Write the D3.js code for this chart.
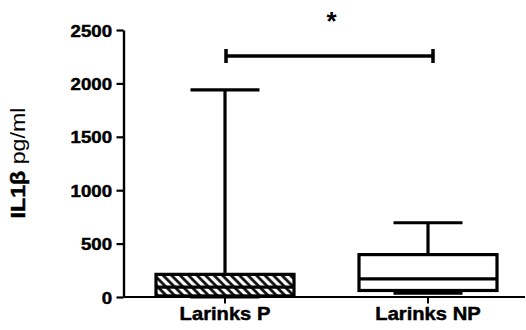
<!DOCTYPE html>
<html>
<head>
<meta charset="utf-8">
<script src="https://cdn.jsdelivr.net/npm/d3@7"></script>
<style>
  html, body { margin: 0; padding: 0; background: #fff; }
  svg { display: block; }
  text { font-family: "Liberation Sans", Arial, sans-serif; fill: #000; }
</style>
</head>
<body>
<div id="chart"></div>
<script>
// ---- data ----
const categories = ["Larinks P", "Larinks NP"];
const mins    = [0, 35];
const q1s     = [10, 61];
const medians = [92, 170];
const q3s     = [212, 397];
const maxs    = [1940, 695];
const hatched = [true, false];
const yTicks  = [0, 500, 1000, 1500, 2000, 2500];
const yLabelBold = "IL1β";
const yLabelUnit = " pg/ml";
const sigText = "*";

// ---- layout ----
const W = 526, H = 330;
const svg = d3.select("#chart").append("svg").attr("width", W).attr("height", H);

const x = d3.scalePoint().domain(categories).range([225, 428]);
const y = d3.scaleLinear().domain([0, 2500]).range([297, 30]);
const axisX0 = 123.5, axisX1 = 525;
const boxW = 138, capW = boxW / 2;

// hatch pattern
const defs = svg.append("defs");
defs.append("pattern")
  .attr("id", "hatch")
  .attr("patternUnits", "userSpaceOnUse")
  .attr("width", 6).attr("height", 6)
  .attr("patternTransform", "rotate(-45)")
  .call(p => {
    p.append("rect").attr("width", 6).attr("height", 6).attr("fill", "#fff");
    p.append("line").attr("x1", 1.5).attr("y1", 0).attr("x2", 1.5).attr("y2", 6)
      .attr("stroke", "#000").attr("stroke-width", 2.6);
  });

// y axis
const yAxis = svg.append("g")
  .attr("transform", `translate(${axisX0},0)`)
  .call(d3.axisLeft(y).tickValues(yTicks).tickSize(7).tickSizeOuter(0).tickFormat(d3.format("d")));
yAxis.select(".domain").attr("stroke", "#000").attr("stroke-width", 2.4);
yAxis.selectAll(".tick line").attr("stroke", "#000").attr("stroke-width", 2.2);
yAxis.selectAll(".tick text")
  .attr("x", null).attr("dy", null)
  .attr("transform", "translate(-11.5,6) scale(1.15,1)")
  .attr("text-anchor", "end")
  .attr("stroke", "#000").attr("stroke-width", 0.45)
  .style("font-size", "16.2px").style("font-weight", "bold")
  .style("font-family", "'Liberation Sans', Arial, sans-serif");

// x axis
svg.append("line")
  .attr("x1", axisX0).attr("x2", axisX1).attr("y1", y(0)).attr("y2", y(0))
  .attr("stroke", "#000").attr("stroke-width", 2);
const xTicks = svg.append("g").selectAll("g").data(categories).join("g")
  .attr("transform", d => `translate(${x(d)},${y(0)})`);
xTicks.append("line").attr("y1", 0).attr("y2", 6.5).attr("stroke", "#000").attr("stroke-width", 2);
xTicks.append("text")
  .attr("transform", "translate(0,23.3) scale(1.12,1)")
  .attr("text-anchor", "middle")
  .attr("stroke", "#000").attr("stroke-width", 0.45)
  .style("font-size", "18px").style("font-weight", "bold")
  .text(d => d);

// y label
const yl = svg.append("text")
  .attr("transform", `translate(25,${(y(0) + y(2500)) / 2 - 0.5}) rotate(-90) scale(1.16,1)`)
  .attr("text-anchor", "middle")
  .style("font-size", "20px");
yl.append("tspan").style("font-weight", "bold")
  .attr("stroke", "#000").attr("stroke-width", 0.45).text(yLabelBold);
yl.append("tspan").text(yLabelUnit);

// boxes
const sw = 3.2;
const g = svg.append("g").selectAll("g").data(categories).join("g")
  .attr("transform", d => `translate(${x(d)},0)`);

// upper whisker
g.append("line").attr("x1", 0).attr("x2", 0)
  .attr("y1", (d, i) => y(q3s[i])).attr("y2", (d, i) => y(maxs[i]))
  .attr("stroke", "#000").attr("stroke-width", sw);
g.append("line").attr("x1", -capW / 2).attr("x2", capW / 2)
  .attr("y1", (d, i) => y(maxs[i])).attr("y2", (d, i) => y(maxs[i]))
  .attr("stroke", "#000").attr("stroke-width", sw);
// lower whisker
g.append("line").attr("x1", 0).attr("x2", 0)
  .attr("y1", (d, i) => y(q1s[i])).attr("y2", (d, i) => y(mins[i]))
  .attr("stroke", "#000").attr("stroke-width", sw);
g.append("line").attr("x1", -capW / 2).attr("x2", capW / 2)
  .attr("y1", (d, i) => y(mins[i])).attr("y2", (d, i) => y(mins[i]))
  .attr("stroke", "#000").attr("stroke-width", sw);
// box
g.append("rect")
  .attr("x", -boxW / 2).attr("width", boxW)
  .attr("y", (d, i) => y(q3s[i]))
  .attr("height", (d, i) => y(q1s[i]) - y(q3s[i]))
  .attr("fill", (d, i) => hatched[i] ? "url(#hatch)" : "#fff")
  .attr("stroke", "#000").attr("stroke-width", sw);
// median
g.append("line").attr("x1", -boxW / 2).attr("x2", boxW / 2)
  .attr("y1", (d, i) => y(medians[i])).attr("y2", (d, i) => y(medians[i]))
  .attr("stroke", "#000").attr("stroke-width", sw);

// significance bar
const bx1 = x(categories[0]) + 1, bx2 = x(categories[1]) + 5, by = 56;
svg.append("line").attr("x1", bx1).attr("x2", bx2).attr("y1", by).attr("y2", by)
  .attr("stroke", "#000").attr("stroke-width", 3.5);
[bx1, bx2].forEach(bx => svg.append("line")
  .attr("x1", bx).attr("x2", bx).attr("y1", by - 7).attr("y2", by + 7)
  .attr("stroke", "#000").attr("stroke-width", 3.5));
svg.append("text")
  .attr("x", (bx1 + bx2) / 2 + 2).attr("y", 30)
  .attr("text-anchor", "middle")
  .style("font-size", "26px").style("font-weight", "bold")
  .text(sigText);
</script>
</body>
</html>
